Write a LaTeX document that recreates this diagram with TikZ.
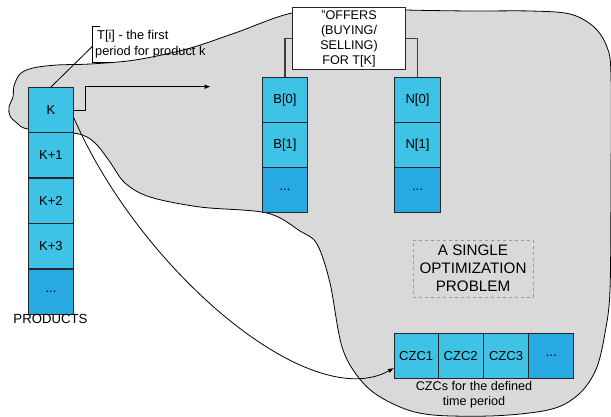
\documentclass[tikz,border=0pt]{standalone}
\usepackage{fontspec}
\setmainfont{Liberation Sans}
\usetikzlibrary{arrows.meta,calc}
\definecolor{cellA}{HTML}{3EC3E6}
\definecolor{cellB}{HTML}{27AAE1}
\definecolor{blobgray}{HTML}{D9D9D9}
\definecolor{linkgray}{HTML}{404040}

\begin{document}
\begin{tikzpicture}[x=1pt,y=-1pt,
  txt/.style={font=\fontsize{13}{15}\selectfont},
  cell/.style={draw=black!85, line width=0.9pt, fill=cellA, minimum width=45pt,
    minimum height=45pt, inner sep=0pt, anchor=north west, txt},
  cellmore/.style={cell, fill=cellB},
  tip/.style={-{Latex[length=6pt,width=4.5pt]}},
  thin line/.style={line width=0.8pt, black}]

\useasboundingbox (0,0) rectangle (611,417);

% shaded region of the single optimization problem
\draw[fill=blobgray, line width=0.8pt] plot[smooth cycle, tension=0.55] coordinates {
  (20,74) (33,68) (57,65) (90,64) (135,60) (187,49) (235,33) (292,13) (350,8)
  (405,10) (470,11) (530,11) (570,14) (594,27) (607,47) (611,75) (611,180)
  (610,290) (605,333) (597,367) (583,390) (563,405) (537,412) (490,416)
  (433,415) (400,407) (367,387) (343,350) (330,283) (317,244) (300,231)
  (267,213) (200,207) (150,197) (125,183) (110,162) (98,146) (87,137) (73,133)
  (28,129) (17,123) (10,116) (9,107) (13,97) (14,86)};

% product column
\node[cell] (K)  at (28,87)    {K};
\node[cell] (K1) at (28,132.4) {K+1};
\node[cell] (K2) at (28,177.8) {K+2};
\node[cell] (K3) at (28,223.2) {K+3};
\node[cellmore] (Kd) at (28,268.6) {...};
\node[font=\fontsize{13.2}{16}\selectfont, anchor=north, inner sep=0pt] (prod) at (50.5,314.5) {PRODUCTS};

% offers box and its two columns
\node[draw=black!85, line width=0.9pt, fill=white, minimum width=113.4pt, minimum height=61.6pt,
  inner sep=0pt, align=center, font=\fontsize{12.6}{15}\selectfont] (offers) at (349,38.5)
  {"OFFERS\\(BUYING/\\SELLING)\\FOR T[K]};

\node[cell] (B0) at (262,77)  {B[0]};
\node[cell] (B1) at (262,122) {B[1]};
\node[cellmore] (Bd) at (262,167) {...};
\node[cell, minimum width=46pt] (N0) at (394,77)  {N[0]};
\node[cell, minimum width=46pt] (N1) at (394,122) {N[1]};
\node[cellmore, minimum width=46pt] (Nd) at (394,167) {...};

\draw[linkgray, line width=1.1pt] (offers.west) -| (B0.north);
\draw[linkgray, line width=1.1pt] (offers.east) -| (N0.north);

% optimization problem label
\node[draw=black!40, dashed, line width=0.6pt, minimum width=120pt, minimum height=57pt,
  inner sep=0pt, align=center, font=\fontsize{15.2}{18}\selectfont] (opt) at (473,268.5)
  {A SINGLE\\OPTIMIZATION\\PROBLEM};

% CZC row
\node[cell, minimum width=43.5pt] (C1) at (394,333) {CZC1};
\node[cell, minimum width=45.4pt] (C2) at (437.5,333) {CZC2};
\node[cell, minimum width=45.4pt] (C3) at (482.9,333) {CZC3};
\node[cellmore] (Cd) at (528.3,333) {...};
\node[align=center, anchor=north, inner sep=0pt, font=\fontsize{12.6}{15.5}\selectfont] (czcl) at (474,381)
  {CZCs for the defined\\time period};

% callout for the first period
\node[anchor=west, align=left, inner sep=0pt, font=\fontsize{12.8}{16}\selectfont] (callout) at (95,44.5)
  {\hspace{2pt}T[i] - the first\\period for product k};
\coordinate (cb) at (92.3,46.5);
\draw[thin line] (100,26.7) -| (92.3,62.7) -- (112,62.7);
\draw[thin line] (cb) -- (K.north);

% links from product K
\coordinate (aend) at (210.7,86.7);
\draw[thin line, tip] (K.east) -- ++(11,0) |- (aend);
\draw[thin line, tip] ([yshift=-8pt]K.east) .. controls (140,270) and (310,415) .. ([yshift=-12pt]C1.west);

\end{tikzpicture}
\end{document}
